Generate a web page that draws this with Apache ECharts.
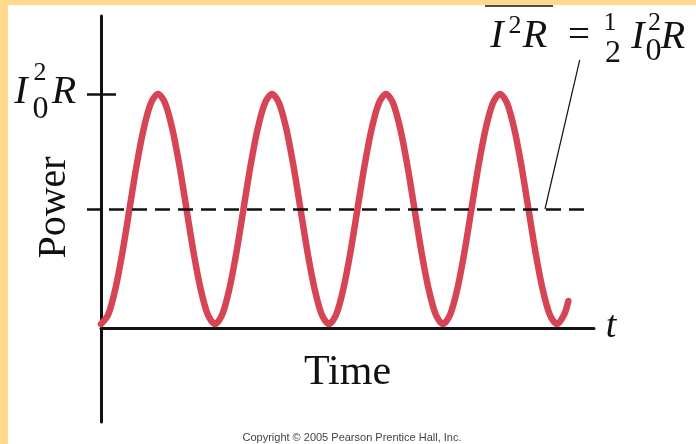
<!DOCTYPE html>
<html>
<head>
<meta charset="utf-8">
<title>Power vs Time</title>
<script src="https://cdn.jsdelivr.net/npm/echarts@6.0.0/dist/echarts.min.js"></script>
<style>
    body { margin: 0; background: #FFDA8C; width: 696px; height: 444px; overflow: hidden; }
    #main { position: absolute; left: 8px; top: 5px; width: 688px; height: 439px; background: #fff; }
</style>
</head>
<body>
<div id="main"></div>
<script type="text/javascript">

    // time in units of one power period
    var times = [0, 0.0625, 0.125, 0.1875, 0.25, 0.3125, 0.375, 0.4375,
                 0.5, 0.5625, 0.625, 0.6875, 0.75, 0.8125, 0.875, 0.9375,
                 1, 1.0625, 1.125, 1.1875, 1.25, 1.3125, 1.375, 1.4375,
                 1.5, 1.5625, 1.625, 1.6875, 1.75, 1.8125, 1.875, 1.9375,
                 2, 2.0625, 2.125, 2.1875, 2.25, 2.3125, 2.375, 2.4375,
                 2.5, 2.5625, 2.625, 2.6875, 2.75, 2.8125, 2.875, 2.9375,
                 3, 3.0625, 3.125, 3.1875, 3.25, 3.3125, 3.375, 3.4375,
                 3.5, 3.5625, 3.625, 3.6875, 3.75, 3.8125, 3.875, 3.9375,
                 4, 4.0625, 4.1];
    // power in units of I0^2 R
    var power = [0, 0.04, 0.15, 0.31, 0.5, 0.69, 0.85, 0.96,
                 1, 0.96, 0.85, 0.69, 0.5, 0.31, 0.15, 0.04,
                 0, 0.04, 0.15, 0.31, 0.5, 0.69, 0.85, 0.96,
                 1, 0.96, 0.85, 0.69, 0.5, 0.31, 0.15, 0.04,
                 0, 0.04, 0.15, 0.31, 0.5, 0.69, 0.85, 0.96,
                 1, 0.96, 0.85, 0.69, 0.5, 0.31, 0.15, 0.04,
                 0, 0.04, 0.15, 0.31, 0.5, 0.69, 0.85, 0.96,
                 1, 0.96, 0.85, 0.69, 0.5, 0.31, 0.15, 0.04,
                 0, 0.04, 0.1];
    var averagePower = 0.5;
    var peakPower = 1;

    var serif = '"Liberation Serif", "DejaVu Serif", serif';

    var points = [];
    for (var i = 0; i < times.length; i++) {
        points.push([times[i], power[i]]);
    }

    // text placed by its centre, page pixels
    function txt(text, x, y, size, italic) {
        return {
            type: 'text',
            silent: true,
            style: {
                text: text,
                x: x - 8,
                y: y - 5,
                font: (italic ? 'italic ' : '') + size + 'px ' + serif,
                fill: '#111',
                align: 'center',
                textAlign: 'center',
                verticalAlign: 'middle',
                textVerticalAlign: 'middle'
            }
        };
    }

    var chart = echarts.init(document.getElementById('main'));

    var option = {
        animation: false,
        grid: {
            left: 93,
            right: 102,
            top: 11,
            bottom: 22,
            outerBoundsMode: 'none'
        },
        xAxis: {
            type: 'value',
            min: 0,
            max: 4.325,
            offset: -93.5,
            axisLine: { onZero: false, lineStyle: { color: '#111', width: 3 } },
            axisTick: { show: false },
            axisLabel: { show: false },
            splitLine: { show: false },
            name: 'Time',
            nameLocation: 'middle',
            nameGap: 23,
            nameTextStyle: { fontFamily: serif, fontSize: 42, color: '#111' }
        },
        yAxis: [
            {
                type: 'value',
                min: -0.426,
                max: 1.339,
                axisLine: { show: true, lineStyle: { color: '#111', width: 3 } },
                axisTick: {
                    show: true,
                    length: 14,
                    customValues: [averagePower, peakPower],
                    lineStyle: { color: '#111', width: 2.5 }
                },
                axisLabel: { show: false },
                splitLine: { show: false },
                name: 'Power',
                nameLocation: 'middle',
                nameRotate: 90,
                nameGap: 27,
                nameTextStyle: { fontFamily: serif, fontSize: 40, color: '#111', padding: [0, 0, 0, 23] }
            },
            {
                type: 'value',
                min: -0.426,
                max: 1.339,
                position: 'left',
                axisLine: { show: false },
                axisTick: {
                    show: true,
                    inside: true,
                    length: 15,
                    customValues: [peakPower],
                    lineStyle: { color: '#111', width: 2.5 }
                },
                axisLabel: { show: false },
                splitLine: { show: false }
            }
        ],
        series: [
            {
                type: 'line',
                data: points,
                smooth: 0.3,
                showSymbol: false,
                lineStyle: { color: '#D64555', width: 6.5, cap: 'round' },
                markLine: {
                    silent: true,
                    symbol: ['none', 'none'],
                    label: { show: false },
                    lineStyle: { color: '#111', width: 2.5, type: [15, 8], dashOffset: 15 },
                    data: [
                        [{ coord: [0, averagePower] }, { coord: [4.25, averagePower] }],
                        [{ coord: [3.895, averagePower], lineStyle: { color: '#111', width: 1.2, type: 'solid' } },
                         { coord: [4.2, 1.148] }]
                    ]
                }
            }
        ],
        graphic: [
            // I0^2 R tick label
            txt('I', 21, 92.5, 40, true),
            txt('2', 40, 73.5, 26, false),
            txt('0', 40.5, 109.5, 32, false),
            txt('R', 64, 92.5, 40, true),
            // mean power annotation
            { type: 'line', silent: true, shape: { x1: 485 - 8, y1: 6 - 5, x2: 553 - 8, y2: 6 - 5 },
              style: { stroke: '#111', lineWidth: 1.5 } },
            txt('I', 497, 36, 40, true),
            txt('2', 515, 26.5, 26, false),
            txt('R', 535, 36, 40, true),
            txt('=', 579, 37, 39, false),
            txt('1', 610, 23.5, 26, false),
            txt('2', 613, 53.5, 32, false),
            txt('I', 638, 37.5, 40, true),
            txt('2', 654.5, 23, 26, false),
            txt('0', 653.5, 51.5, 32, false),
            txt('R', 673, 37.5, 40, true),
            // axis end label
            txt('t', 611, 327, 38, true),
            {
                type: 'text',
                silent: true,
                style: {
                    text: 'Copyright \u00a9 2005 Pearson Prentice Hall, Inc.',
                    x: 352 - 8,
                    y: 438 - 5,
                    font: '11px "Liberation Sans", Arial, sans-serif',
                    fill: '#444',
                    align: 'center',
                    textAlign: 'center',
                    verticalAlign: 'middle',
                    textVerticalAlign: 'middle'
                }
            }
        ]
    };

    chart.setOption(option);

</script>
</body>
</html>
